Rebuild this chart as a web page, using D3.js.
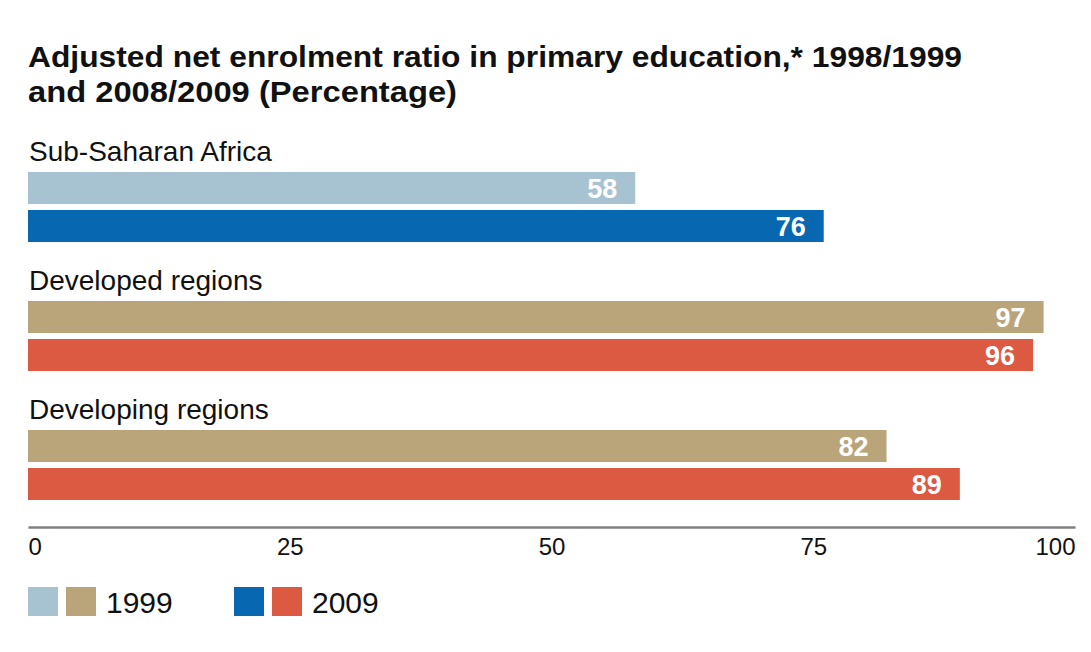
<!DOCTYPE html>
<html>
<head>
<meta charset="utf-8">
<script src="https://cdn.jsdelivr.net/npm/d3@7"></script>
<style>
  html, body { margin: 0; padding: 0; background: #fff; }
  svg { display: block; font-family: "Liberation Sans", Arial, sans-serif; }
</style>
</head>
<body>
<svg id="chart" width="1091" height="652"></svg>
<script>
const titleLines = ["Adjusted net enrolment ratio in primary education,* 1998/1999", "and 2008/2009 (Percentage)"];
const regions = ["Sub-Saharan Africa", "Developed regions", "Developing regions"];
const values1999 = [58, 97, 82];
const values2009 = [76, 96, 89];
const tickValues = [0, 25, 50, 75, 100];
const legendLabels = ["1999", "2009"];
const colors1999 = ["#a7c2d1", "#baa57a", "#baa57a"];
const colors2009 = ["#0767b1", "#dc5942", "#dc5942"];

const svg = d3.select("#chart");
const left = 28, right = 1075;

// Title
const titleWidths = [934, 429];
titleLines.forEach((t, i) => {
  svg.append("text")
    .attr("x", left).attr("y", 67 + i * 35)
    .attr("font-size", 30).attr("font-weight", "bold").attr("fill", "#111")
    .attr("textLength", titleWidths[i]).attr("lengthAdjust", "spacingAndGlyphs")
    .text(t);
});

const x = d3.scaleLinear().domain([0, 100]).range([left, right]);
const yGroup = d3.scaleBand().domain(regions).range([172, 559]).paddingInner(0).paddingOuter(0);
const barH = 32, barGap = 6;

const groups = svg.selectAll("g.grp").data(regions).join("g")
  .attr("class", "grp")
  .attr("transform", d => `translate(0,${yGroup(d)})`);

groups.append("text")
  .attr("x", left + 1).attr("y", -11)
  .attr("font-size", 28).attr("fill", "#111")
  .text(d => d);

const series = [
  { vals: values1999, cols: colors1999, off: 0 },
  { vals: values2009, cols: colors2009, off: barH + barGap }
];

series.forEach(s => {
  groups.append("rect")
    .attr("x", x(0))
    .attr("y", s.off)
    .attr("width", (d, i) => x(s.vals[i]) - x(0))
    .attr("height", barH)
    .attr("fill", (d, i) => s.cols[i]);
  groups.append("text")
    .attr("x", (d, i) => x(s.vals[i]) - 18)
    .attr("y", s.off + barH / 2 + 9.5)
    .attr("text-anchor", "end")
    .attr("font-size", 27).attr("font-weight", "bold").attr("fill", "#fff")
    .text((d, i) => s.vals[i]);
});

// Axis
const axis = svg.append("g")
  .attr("transform", "translate(0,527)")
  .call(d3.axisBottom(x).tickValues(tickValues).tickSize(0).tickSizeOuter(0));
axis.select(".domain").attr("stroke", "#808080").attr("stroke-width", 2.5);
axis.selectAll(".tick text")
  .attr("dy", null).attr("y", 28)
  .attr("font-size", 24).attr("fill", "#111")
  .attr("font-family", "Liberation Sans, Arial, sans-serif")
  .attr("text-anchor", d => d === 0 ? "start" : (d === 100 ? "end" : "middle"));

// Legend
const legendPairs = [
  { label: legendLabels[0], cols: [colors1999[0], colors1999[1]], x0: 28 },
  { label: legendLabels[1], cols: [colors2009[0], colors2009[1]], x0: 234 }
];
legendPairs.forEach(p => {
  p.cols.forEach((c, j) => {
    svg.append("rect")
      .attr("x", p.x0 + j * 38).attr("y", 587)
      .attr("width", 30).attr("height", 29)
      .attr("fill", c);
  });
  svg.append("text")
    .attr("x", p.x0 + 78).attr("y", 613)
    .attr("font-size", 30).attr("fill", "#111")
    .text(p.label);
});
</script>
</body>
</html>
